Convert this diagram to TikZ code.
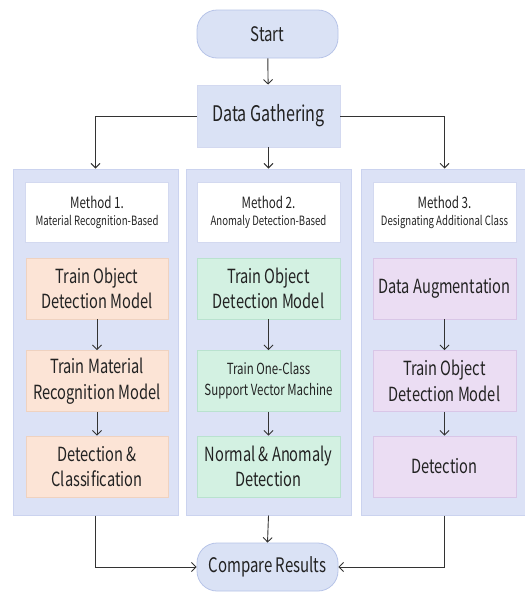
\documentclass[tikz,border=0pt]{standalone}
\usepackage{fontspec}
\setmainfont[FakeStretch=0.75]{Noto Sans CJK KR}
\usetikzlibrary{arrows.meta}

\definecolor{ink}{HTML}{222222}
\definecolor{wire}{HTML}{333333}
\definecolor{panelfill}{HTML}{DCE2F6}
\definecolor{panelline}{HTML}{CBD3EF}
\definecolor{termfill}{HTML}{DAE2F5}
\definecolor{termline}{HTML}{B7C4E8}
\definecolor{orangefill}{HTML}{FCE4D6}
\definecolor{orangeline}{HTML}{EFD2C0}
\definecolor{greenfill}{HTML}{D3F1E2}
\definecolor{greenline}{HTML}{B9E2CF}
\definecolor{purplefill}{HTML}{EBDDF3}
\definecolor{purpleline}{HTML}{D9C6E7}
\definecolor{headline}{HTML}{D3D9F0}

\tikzset{
  every node/.style={text=ink, inner sep=0pt, align=center},
  boxtext/.style={font=\fontsize{19.5}{25.5}\selectfont},
  smalltext/.style={font=\fontsize{15.3}{21}\selectfont},
  panel/.style={draw=panelline, fill=panelfill, line width=1pt,
    minimum height=346pt},
  terminal/.style={font=\fontsize{20}{26}\selectfont, draw=termline,
    fill=termfill, line width=0.8pt,
    rounded corners=20pt, minimum width=141pt, minimum height=48pt},
  gather/.style={font=\fontsize{21.5}{26}\selectfont, draw=headline,
    fill=termfill, line width=0.8pt, minimum width=143pt, minimum height=62pt},
  header/.style={draw=headline, fill=white, line width=0.8pt,
    minimum width=143pt, minimum height=60pt},
  orangebox/.style={draw=orangeline, fill=orangefill, line width=0.8pt,
    minimum width=142pt, minimum height=61pt},
  greenbox/.style={draw=greenline, fill=greenfill, line width=0.8pt,
    minimum width=143pt, minimum height=61pt},
  purplebox/.style={draw=purpleline, fill=purplefill, line width=0.8pt,
    minimum width=143pt, minimum height=61pt},
  arr/.style={draw=wire, line width=0.9pt,
    -{Straight Barb[length=4.5pt,width=9pt,line width=0.9pt]}}
}

% two-line heading of a method column
\newcommand{\methodhead}[2]{{\fontsize{15.5}{19}\selectfont #1}\\[5pt]{\fontsize{12.8}{16}\selectfont #2}}

\begin{document}
\begin{tikzpicture}[x=1pt, y=-1pt]
  \useasboundingbox[fill=white] (0,0) rectangle (525,592);

  % column panels
  \node[panel, minimum width=165pt] (p1) at (95.5,342) {};
  \node[panel, minimum width=165pt] (p2) at (268.5,342) {};
  \node[panel, minimum width=167pt] (p3) at (444.5,342) {};

  % top and bottom of the flow
  \node[terminal] (start) at (267.5,34) {Start};
  \node[gather] (dg) at (268.5,116) {Data Gathering};
  \node[terminal] (cmp) at (267.5,567) {Compare Results};

  % method 1
  \node[header] (h1) at (97,212) {\methodhead{Method 1.}{Material Recognition-Based}};
  \node[orangebox, boxtext] (a1) at (97,288.5) {Train Object\\Detection Model};
  \node[orangebox, boxtext] (a2) at (97,381) {Train Material\\Recognition Model};
  \node[orangebox, boxtext] (a3) at (97,466.5) {Detection \&\\Classification};

  % method 2
  \node[header] (h2) at (268.5,212) {\methodhead{Method 2.}{Anomaly Detection-Based}};
  \node[greenbox, boxtext] (b1) at (268.5,288.5) {Train Object\\Detection Model};
  \node[greenbox, smalltext] (b2) at (268.5,381) {Train One-Class\\Support Vector Machine};
  \node[greenbox, boxtext] (b3) at (268.5,466.5) {Normal \& Anomaly\\Detection};

  % method 3
  \node[header] (h3) at (444.5,212) {\methodhead{Method 3.}{Designating Additional Class}};
  \node[purplebox, boxtext] (c1) at (444.5,288.5) {Data Augmentation};
  \node[purplebox, boxtext] (c2) at (444.5,381) {Train Object\\Detection Model};
  \node[purplebox, boxtext] (c3) at (444.5,466.5) {Detection};

  % connectors
  \draw[arr] (start) -- (dg);
  \draw[arr] (dg.west) -| (p1.north);
  \draw[arr] (dg) -- (p2.north);
  \draw[arr] (dg.east) -| (p3.north);

  \draw[arr] (a1) -- (a2);
  \draw[arr] (a2) -- (a3);
  \draw[arr] (b1) -- (b2);
  \draw[arr] (b2) -- (b3);
  \draw[arr] (c1) -- (c2);
  \draw[arr] (c2) -- (c3);

  \draw[arr] (p1.south) |- (cmp.west);
  \draw[arr] (p2.south) -- (cmp.north);
  \draw[arr] (p3.south) |- (cmp.east);
\end{tikzpicture}
\end{document}
